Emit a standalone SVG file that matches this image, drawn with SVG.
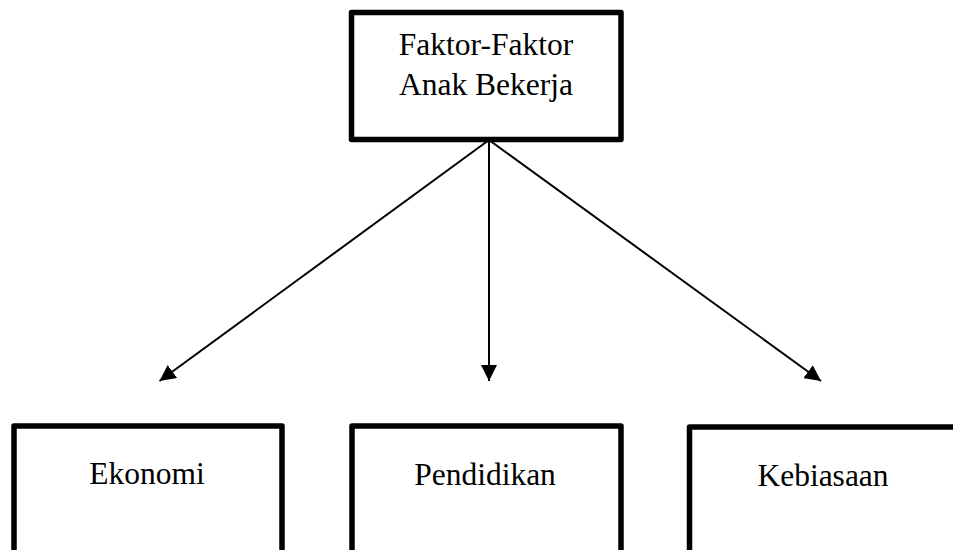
<svg xmlns="http://www.w3.org/2000/svg" width="953" height="550" viewBox="0 0 953 550">
<style>
.box{fill:#fff;stroke:#000;stroke-width:5.5;stroke-linejoin:round}
.lbl{font-family:"Liberation Serif","Times New Roman",serif;font-size:31.5px;fill:#000;text-anchor:middle}
.conn{stroke:#000;stroke-width:2;fill:none}
</style>
<defs>
<marker id="arr" markerUnits="userSpaceOnUse" markerWidth="17" markerHeight="16" refX="16" refY="8" orient="auto">
<path d="M0,0 L16,8 L0,16 z" fill="#000"/>
</marker>
</defs>
<rect width="953" height="550" fill="#fff"/>
<g id="connectors">
<line class="conn" x1="489" y1="140" x2="159.5" y2="381" marker-end="url(#arr)"/>
<line class="conn" x1="489" y1="140" x2="489" y2="381" marker-end="url(#arr)"/>
<line class="conn" x1="489" y1="140" x2="821" y2="381" marker-end="url(#arr)"/>
</g>
<g id="top">
<rect class="box" x="351.5" y="12.5" width="269.5" height="127"/>
<text class="lbl" x="486" y="55">Faktor-Faktor</text>
<text class="lbl" x="486" y="95">Anak Bekerja</text>
</g>
<g id="ekonomi">
<rect class="box" x="14" y="426" width="268" height="140"/>
<text class="lbl" x="147" y="484">Ekonomi</text>
</g>
<g id="pendidikan">
<rect class="box" x="352" y="426" width="269" height="140"/>
<text class="lbl" x="485" y="485">Pendidikan</text>
</g>
<g id="kebiasaan">
<rect class="box" x="689.5" y="427" width="280" height="140"/>
<text class="lbl" x="823" y="486">Kebiasaan</text>
</g>
</svg>
